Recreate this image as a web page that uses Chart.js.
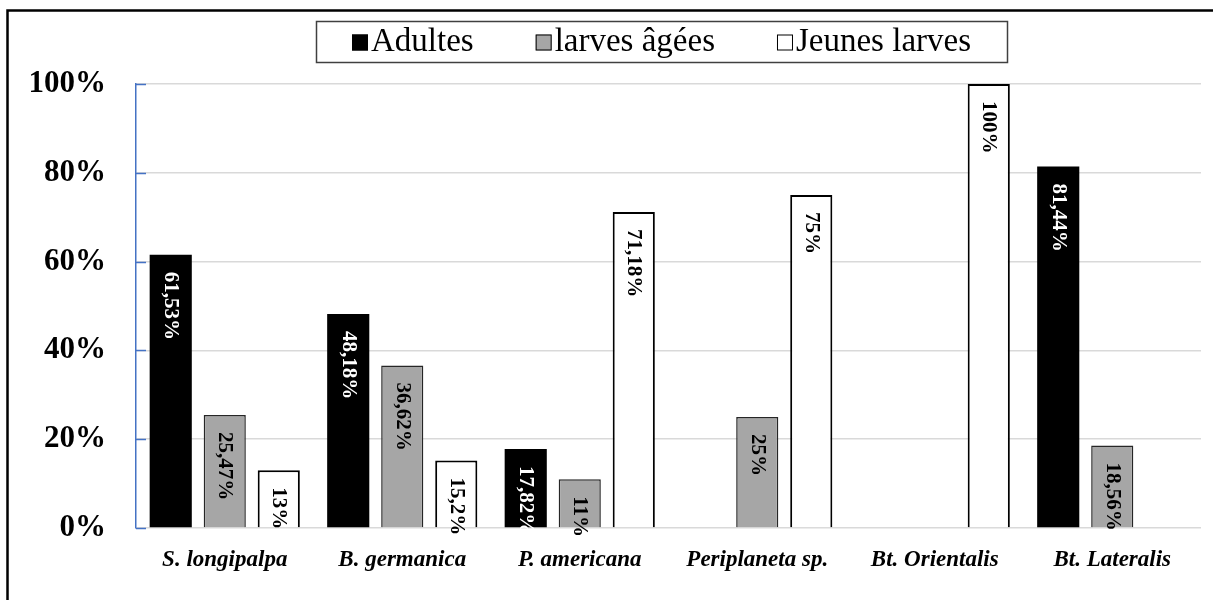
<!DOCTYPE html>
<html lang="fr">
<head>
    <meta charset="UTF-8">
    <title>Stades de développement par espèce</title>
    <script src="https://cdn.jsdelivr.net/npm/chart.js"></script>
    <style>
        body {
            margin: 0;
            background-color: #ffffff;
        }
        #wrap {
            width: 1213px;
            height: 600px;
            position: relative;
        }
    </style>
</head>
<body>
    <div id="wrap"><canvas id="stadesChart"></canvas></div>

    <script>
        // Données
        const categories = ['S. longipalpa', 'B. germanica', 'P. americana', 'Periplaneta sp.', 'Bt. Orientalis', 'Bt. Lateralis'];
        const adultes = [61.53, 48.18, 17.82, null, null, 81.44];
        const larvesAgees = [25.47, 36.62, 11, 25, null, 18.56];
        const jeunesLarves = [13, 15.2, 71.18, 75, 100, null];
        const yTicks = [0, 20, 40, 60, 80, 100];

        const serif = "'Times New Roman', 'Liberation Serif', serif";

        function pct(v) {
            return String(v).replace('.', ',') + '%';
        }

        // Cadre extérieur (haut et gauche)
        const frame = {
            id: 'frame',
            afterDraw(chart) {
                const c = chart.ctx;
                c.save();
                c.strokeStyle = '#000';
                c.lineWidth = 2.5;
                c.beginPath();
                c.moveTo(7.5, 600);
                c.lineTo(7.5, 10.5);
                c.lineTo(1213, 10.5);
                c.stroke();
                c.restore();
            }
        };

        // Petites graduations bleues vers l'intérieur
        const innerTicks = {
            id: 'innerTicks',
            afterDatasetsDraw(chart) {
                const c = chart.ctx;
                const y = chart.scales.y;
                c.save();
                c.strokeStyle = '#4472c4';
                c.lineWidth = 1.5;
                yTicks.forEach(t => {
                    const py = Math.round(y.getPixelForValue(t)) + 0.5;
                    c.beginPath();
                    c.moveTo(y.right, py);
                    c.lineTo(y.right + 10, py);
                    c.stroke();
                });
                c.restore();
            }
        };

        // Étiquettes verticales en haut des barres
        const barLabels = {
            id: 'barLabels',
            afterDatasetsDraw(chart) {
                const c = chart.ctx;
                c.save();
                c.font = 'bold 21px ' + serif;
                c.textAlign = 'left';
                c.textBaseline = 'middle';
                chart.data.datasets.forEach((ds, i) => {
                    chart.getDatasetMeta(i).data.forEach((bar, j) => {
                        const v = ds.data[j];
                        if (v == null) return;
                        c.save();
                        c.translate(bar.x, bar.y + 17);
                        c.rotate(Math.PI / 2);
                        c.fillStyle = ds.labelColor;
                        c.fillText(pct(v), 0, 0);
                        c.restore();
                    });
                });
                c.restore();
            }
        };

        // Légende encadrée
        const boxedLegend = {
            id: 'boxedLegend',
            afterDraw(chart) {
                const c = chart.ctx;
                const box = { left: 316, top: 21, right: 1007, bottom: 62 };
                c.save();
                c.strokeStyle = '#404040';
                c.lineWidth = 1.5;
                c.strokeRect(box.left + 0.5, box.top + 0.5, box.right - box.left, box.bottom - box.top);
                c.font = '33px ' + serif;
                c.textBaseline = 'middle';
                const sq = 16, gapText = 3, gapItem = 62;
                const widths = chart.data.datasets.map(ds => sq + gapText + c.measureText(ds.label).width);
                const total = widths.reduce((a, b) => a + b, 0) + gapItem * (widths.length - 1);
                let x = (box.left + box.right) / 2 - total / 2;
                const cy = (box.top + box.bottom) / 2 + 1;
                chart.data.datasets.forEach((ds, i) => {
                    c.fillStyle = ds.backgroundColor;
                    c.fillRect(x, cy - sq / 2, sq, sq);
                    c.lineWidth = 1;
                    c.strokeStyle = '#000';
                    c.strokeRect(x + 0.5, cy - sq / 2 + 0.5, sq - 1, sq - 1);
                    c.fillStyle = '#000';
                    c.fillText(ds.label, x + sq + gapText, cy);
                    x += widths[i] + gapItem;
                });
                c.restore();
            }
        };

        const ctx = document.getElementById('stadesChart').getContext('2d');

        const stadesChart = new Chart(ctx, {
            type: 'bar',
            data: {
                labels: categories,
                datasets: [
                    {
                        label: 'Adultes',
                        data: adultes,
                        backgroundColor: '#000000',
                        borderColor: '#000000',
                        borderWidth: 0,
                        labelColor: '#ffffff'
                    },
                    {
                        label: 'larves âgées',
                        data: larvesAgees,
                        backgroundColor: '#a6a6a6',
                        borderColor: '#262626',
                        borderWidth: 1.5,
                        labelColor: '#000000'
                    },
                    {
                        label: 'Jeunes larves',
                        data: jeunesLarves,
                        backgroundColor: '#ffffff',
                        borderColor: '#000000',
                        borderWidth: 2,
                        labelColor: '#000000'
                    }
                ]
            },
            options: {
                responsive: true,
                maintainAspectRatio: false,
                animation: false,
                categoryPercentage: 0.913,
                barPercentage: 0.78,
                layout: { padding: { top: 84, right: 12, left: 0, bottom: 0 } },
                plugins: {
                    legend: { display: false },
                    tooltip: { enabled: false }
                },
                scales: {
                    x: {
                        grid: { display: false },
                        border: { display: false },
                        ticks: {
                            color: '#000',
                            padding: 10,
                            font: { family: serif, size: 23, weight: 'bold', style: 'italic' }
                        },
                        afterFit: (scale) => { scale.height = 72; }
                    },
                    y: {
                        min: 0,
                        max: 100,
                        afterBuildTicks: (scale) => { scale.ticks = yTicks.map(v => ({ value: v })); },
                        grid: { color: '#d9d9d9', lineWidth: 1.5, drawTicks: false },
                        border: { color: '#4472c4', width: 1.5 },
                        ticks: {
                            color: '#000',
                            padding: 30,
                            font: { family: serif, size: 31, weight: 'bold' },
                            callback: (v) => v + '%'
                        },
                        afterFit: (scale) => { scale.width = 136; }
                    }
                }
            },
            plugins: [frame, innerTicks, barLabels, boxedLegend]
        });
    </script>
</body>
</html>
